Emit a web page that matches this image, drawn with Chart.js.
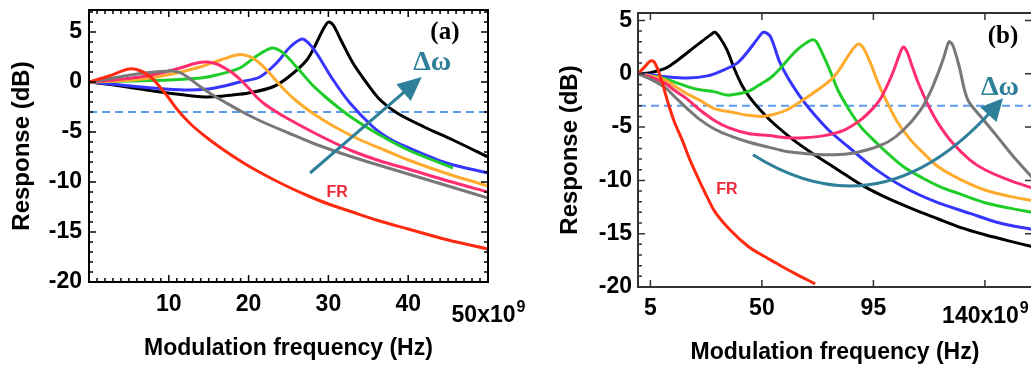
<!DOCTYPE html>
<html>
<head>
<meta charset="utf-8">
<script src="https://cdn.jsdelivr.net/npm/chart.js@4.4.1/dist/chart.umd.min.js"></script>
<style>
  html, body { margin: 0; padding: 0; background: #fff; overflow: hidden; }
  #wrapA { position: absolute; left: 0; top: 0; width: 535px; height: 367px; }
  #wrapB { position: absolute; left: 515px; top: 0; width: 520px; height: 367px; }
</style>
</head>
<body>
<div id="wrapA"><canvas id="chartA"></canvas></div>
<div id="wrapB"><canvas id="chartB"></canvas></div>
<script>
const FONT = 'Arial, "Liberation Sans", sans-serif';

// frequency in units of 1e9 Hz, response in dB
const cutoffDb = -3;
const yTicks = [-20, -15, -10, -5, 0, 5];

// panel (a)
const xTicksA = [10, 20, 30, 40, 50];
const redA = [[0,0],[2.5,0.6],[5,1.3],[6.5,1.1],[8,0.3],[9,-0.6],[10,-1.6],[11,-2.7],[12,-3.6],[13,-4.4],[14.5,-5.4],[16,-6.3],[18,-7.4],[20,-8.4],[22.5,-9.5],[25,-10.5],[27.5,-11.4],[30,-12.2],[33,-13.0],[36,-13.8],[40,-14.7],[45,-15.8],[50,-16.7]];
const grayA = [[0,0],[3,0.4],[6,0.8],[9,1.05],[10.5,1.1],[11.5,0.9],[12.5,0.4],[14,-0.5],[15.5,-1.3],[17,-2.0],[19,-2.9],[21.5,-3.9],[25,-5.1],[28,-6.1],[31.5,-7.1],[35,-8.0],[40,-9.2],[45,-10.4],[50,-11.6]];
const pinkA = [[0,0],[3,0.2],[6.4,0.5],[9,0.9],[11.4,1.4],[13.5,1.9],[14.8,2.0],[16,1.8],[17,1.4],[18,0.9],[19,0.2],[20,-0.6],[21,-1.5],[22,-2.2],[23.5,-3.0],[25,-3.7],[27.3,-4.7],[30,-5.8],[33,-6.9],[36.5,-7.9],[40,-8.7],[45,-9.9],[50,-11.0]];
const orangeA = [[0,0],[5.5,0.2],[9.8,0.7],[13.9,1.5],[16.5,2.2],[18.5,2.7],[19.5,2.7],[20.5,2.4],[21.5,1.8],[22.5,1.0],[23.5,0.1],[24.5,-0.8],[26,-1.9],[28,-3.1],[30.6,-4.4],[34,-5.8],[37,-6.8],[40,-7.8],[45,-9.2],[50,-10.4]];
const greenA = [[0,0],[5,0.1],[10,0.2],[14,0.4],[16,0.7],[18.9,1.4],[21,2.6],[22.9,3.4],[24,3.1],[25,2.4],[26,1.5],[27,0.6],[28,-0.3],[29.5,-1.4],[31,-2.4],[33,-3.6],[36,-5.1],[40,-6.8],[45.6,-8.6]];
const blueA = [[0,0],[4,-0.3],[8,-0.6],[12,-0.8],[15,-0.7],[17,-0.4],[18.9,0.0],[21.4,0.5],[23.5,1.9],[25.2,3.5],[26.7,4.3],[27.5,3.9],[28.5,2.9],[30.6,0.2],[32.7,-2.1],[35.6,-4.5],[37.5,-5.6],[39.8,-6.5],[44.8,-8.1],[50,-9.1]];
const blackA = [[0,0],[4,-0.4],[8,-0.9],[12,-1.3],[15,-1.5],[18,-1.3],[20,-1.1],[23,-0.5],[25,0.5],[27.3,2.2],[28.5,3.9],[29.3,5.2],[30,6.0],[30.6,5.7],[31.5,4.3],[33,2.0],[34.8,-0.1],[36.5,-1.8],[38.6,-3.1],[42,-4.5],[45.6,-5.8],[50,-7.5]];

// panel (b)
const xTicksB = [5, 50, 95, 140];
const redB = [[0,0],[2.5,0.6],[5,1.2],[6.5,1.1],[8,0.4],[10,-1.0],[11.7,-2.4],[14.5,-4.4],[17.8,-6.2],[21,-8.1],[24.5,-9.9],[28,-11.6],[31.2,-13.0],[37,-14.6],[44.5,-16.2],[50,-17.0],[55.3,-17.7],[63,-18.7],[71.5,-19.7]];
const grayB = [[0,0],[5,-0.5],[11,-1.3],[15,-2.2],[20,-3.3],[25,-4.3],[31,-5.2],[38,-5.9],[44.5,-6.4],[53,-6.9],[60,-7.3],[68,-7.5],[76.5,-7.6],[85,-7.5],[93,-7.1],[100.8,-6.4],[107,-5.3],[114,-3.4],[118,-1.7],[121,0.0],[123.5,1.6],[125.5,3.0],[127,2.7],[129.5,0.8],[133,-2.4],[139,-4.2],[145,-5.9],[152,-7.9],[159,-9.7]];
const pinkB = [[0,0],[5,-0.3],[11,-0.9],[15,-1.6],[20,-2.4],[25,-3.4],[31,-4.4],[37,-5.1],[44.5,-5.6],[53,-5.8],[60,-6.0],[67,-6.0],[75,-5.8],[83,-5.3],[90,-4.3],[95,-3.2],[98,-2.3],[101,-0.9],[103.5,0.5],[105.5,1.8],[107,2.5],[108.5,2.1],[110.5,0.8],[113,-0.8],[117,-2.9],[121,-4.6],[127,-6.5],[134,-8.1],[140,-9.0],[150,-10.0],[159,-10.7]];
const orangeB = [[0,0],[5,-0.2],[11,-0.6],[15,-1.2],[20,-1.9],[25,-2.5],[31,-3.3],[38,-3.6],[44.5,-3.9],[50,-4.0],[55,-3.8],[60,-3.4],[67,-2.4],[72,-1.6],[77.7,-0.6],[81,0.3],[84.6,1.6],[87,2.4],[89,2.8],[91,2.4],[94,0.9],[96.8,-0.8],[101,-2.9],[104.9,-4.6],[110,-6.2],[115,-7.4],[121,-8.7],[130,-9.9],[140,-10.9],[150,-11.5],[159,-11.9]];
const greenB = [[0,0],[5,-0.2],[10,-0.4],[15,-0.8],[20,-1.2],[25,-1.5],[31,-1.7],[36,-2.0],[40,-1.9],[45,-1.6],[50,-0.9],[53.4,-0.4],[57,0.4],[61.5,1.6],[65,2.4],[68,2.9],[70.4,3.2],[72,3.0],[75,1.6],[78,0.0],[80.6,-1.5],[85,-3.3],[90,-5.0],[95,-6.2],[100,-7.3],[107,-8.7],[115,-9.8],[122,-10.6],[129,-11.2],[140,-12.1],[150,-12.6],[159,-13.0]];
const blueB = [[0,0],[5,-0.1],[12,-0.3],[20,-0.4],[28,-0.2],[34,0.3],[40,1.0],[44,2.0],[48,3.2],[50.6,3.9],[53.4,3.5],[57,1.2],[60.3,-0.3],[65,-2.0],[69.6,-3.4],[77,-5.3],[84.6,-6.8],[95,-8.8],[107,-10.6],[120,-12.0],[134,-13.1],[146,-14.0],[159,-14.6]];
const blackB = [[0,0],[5,0.1],[11,0.5],[15,1.1],[20,2.0],[25,2.9],[29,3.6],[31,3.9],[33,3.4],[36,2.2],[39,0.4],[42,-1.1],[45,-2.2],[48.6,-3.2],[54,-4.5],[60,-5.7],[65,-6.6],[70,-7.4],[80,-8.9],[90,-10.4],[100,-11.6],[110,-12.6],[121,-13.6],[130,-14.4],[140,-15.1],[150,-15.7],[159,-16.2]];

const C = { black: '#000000', blue: '#3535ff', green: '#1fcc2a', orange: '#ffab2e', pink: '#ff2d6e', gray: '#787878', red: '#ff2a10', teal: '#2e7f99', dash: '#5c9cf0' };

function range(a, b, step) {
  const out = [];
  for (let v = a; v <= b + 1e-9; v += step) out.push(v);
  return out;
}

function series(points, color) {
  return {
    data: points.map(p => ({ x: p[0], y: p[1] })),
    borderColor: color, borderWidth: 3, pointRadius: 0, fill: false,
    tension: 0.3
  };
}

function cutoffLine(xmax) {
  return {
    data: [{ x: 0, y: cutoffDb }, { x: xmax, y: cutoffDb }],
    borderColor: C.dash, borderWidth: 2, borderDash: [8, 5], pointRadius: 0, fill: false
  };
}

// frame around the plot and inward tick marks
const frame = {
  id: 'frame',
  afterDatasetsDraw(chart, args, o) {
    const { ctx, chartArea: c, scales: { x, y } } = chart;
    ctx.save();
    ctx.strokeStyle = o.color;
    ctx.lineWidth = 1.5;
    ctx.beginPath();
    for (const t of o.ticks) {
      const s = t.axis === 'x' ? x : y;
      for (const v of t.values) {
        const p = s.getPixelForValue(v);
        for (const side of t.sides) {
          if (side === 'bottom') { ctx.moveTo(p, c.bottom); ctx.lineTo(p, c.bottom - t.len); }
          if (side === 'top') { ctx.moveTo(p, c.top); ctx.lineTo(p, c.top + t.len); }
          if (side === 'left') { ctx.moveTo(c.left, p); ctx.lineTo(c.left + t.len, p); }
          if (side === 'right') { ctx.moveTo(c.right, p); ctx.lineTo(c.right - t.len, p); }
        }
      }
    }
    ctx.stroke();
    ctx.lineWidth = o.width;
    ctx.strokeRect(c.left, c.top, c.right - c.left, c.bottom - c.top);
    ctx.restore();
  }
};

// arrow, text labels and the "x10^9" tick label
const notes = {
  id: 'notes',
  afterDraw(chart, args, o) {
    const { ctx, chartArea: c, scales: { x, y } } = chart;
    const P = p => [x.getPixelForValue(p[0]), y.getPixelForValue(p[1])];
    ctx.save();
    const a = o.arrow;
    const pts = a.path.map(P);
    const end = pts[pts.length - 1], prev = pts[pts.length - 2];
    const ang = Math.atan2(end[1] - prev[1], end[0] - prev[0]);
    const cs = Math.cos(ang), sn = Math.sin(ang);
    ctx.strokeStyle = ctx.fillStyle = C.teal;
    ctx.lineWidth = a.width;
    ctx.beginPath();
    ctx.moveTo(pts[0][0], pts[0][1]);
    const bx = end[0] - a.head * 0.7 * cs, by = end[1] - a.head * 0.7 * sn;
    if (pts.length === 3) ctx.quadraticCurveTo(pts[1][0], pts[1][1], bx, by);
    else ctx.lineTo(bx, by);
    ctx.stroke();
    ctx.beginPath();
    ctx.moveTo(end[0], end[1]);
    ctx.lineTo(end[0] - a.head * cs + a.half * sn, end[1] - a.head * sn - a.half * cs);
    ctx.lineTo(end[0] - a.head * cs - a.half * sn, end[1] - a.head * sn + a.half * cs);
    ctx.closePath();
    ctx.fill();

    ctx.textAlign = 'center';
    ctx.textBaseline = 'middle';
    for (const t of o.texts) {
      const [px, py] = P(t.at);
      ctx.font = t.font;
      ctx.fillStyle = t.color;
      ctx.fillText(t.text, px, py);
    }

    const L = o.lastTick;
    ctx.textAlign = 'left';
    ctx.textBaseline = 'alphabetic';
    ctx.fillStyle = '#000';
    ctx.font = 'bold 23px ' + FONT;
    const w1 = ctx.measureText(L.text).width;
    ctx.font = 'bold 16px ' + FONT;
    const w2 = ctx.measureText(L.sup).width;
    const x0 = x.getPixelForValue(L.value) - (w1 + w2) / 2;
    const base = c.bottom + L.dy;
    ctx.font = 'bold 23px ' + FONT;
    ctx.fillText(L.text, x0, base);
    ctx.font = 'bold 16px ' + FONT;
    ctx.fillText(L.sup, x0 + w1 + 1, base - 10);
    ctx.restore();
  }
};

const tickFont = { family: FONT, size: 23, weight: 'bold' };

function makeScales(cfg) {
  return {
    x: {
      type: 'linear', min: 0, max: cfg.xmax,
      afterFit: s => { s.height = cfg.xHeight; s.paddingLeft = 0; s.paddingRight = 0; },
      afterBuildTicks: s => { s.ticks = cfg.xTicks.map(v => ({ value: v })); },
      grid: { display: false, drawTicks: false }, border: { display: false },
      ticks: { padding: cfg.xPad, color: '#000', font: tickFont, maxRotation: 0, autoSkip: false,
        callback: v => v === cfg.xTicks[cfg.xTicks.length - 1] ? '' : String(v) },
      title: { display: true, text: 'Modulation frequency (Hz)', color: '#000',
        font: { family: FONT, size: 23, weight: 'bold' }, padding: { top: 0, bottom: cfg.xTitlePad } }
    },
    y: {
      min: -20, max: cfg.ymax,
      afterFit: s => { s.width = cfg.yWidth; s.paddingTop = 0; s.paddingBottom = 0; },
      afterBuildTicks: s => { s.ticks = yTicks.map(v => ({ value: v })); },
      grid: { display: false, drawTicks: false }, border: { display: false },
      ticks: { padding: cfg.yPad, color: '#000', font: tickFont },
      title: { display: true, text: 'Response (dB)', color: '#000',
        font: { family: FONT, size: 24, weight: 'bold' }, padding: { top: cfg.yTitlePad, bottom: 0 } }
    }
  };
}

new Chart(document.getElementById('chartA'), {
  type: 'line',
  data: {
    datasets: [
      series(redA, C.red), series(grayA, C.gray), series(pinkA, C.pink), series(orangeA, C.orange),
      series(greenA, C.green), series(blueA, C.blue), series(blackA, C.black), cutoffLine(50)
    ]
  },
  options: {
    responsive: true, maintainAspectRatio: false, animation: false,
    layout: { padding: { top: 10, right: 47, left: 0, bottom: 0 } },
    scales: makeScales({ xmax: 50, ymax: 7.2, xTicks: xTicksA, xHeight: 85, yWidth: 89, xPad: 9, yPad: 7, xTitlePad: 5, yTitlePad: 8 }),
    plugins: {
      legend: { display: false }, tooltip: { enabled: false },
      frame: {
        color: '#000', width: 2,
        ticks: [
          { axis: 'x', values: range(0, 50, 1), len: 4, sides: ['top', 'bottom'] },
          { axis: 'x', values: range(0, 50, 10), len: 7, sides: ['top', 'bottom'] },
          { axis: 'y', values: range(-20, 7, 1), len: 4, sides: ['left', 'right'] },
          { axis: 'y', values: range(-20, 5, 5), len: 7, sides: ['left', 'right'] }
        ]
      },
      notes: {
        arrow: { path: [[27.7, -9.1], [41.7, 0.5]], width: 3, head: 24, half: 11 },
        texts: [
          { text: 'Δω', at: [43.0, 1.9], font: 'bold 28px "Liberation Serif", "DejaVu Serif", serif', color: C.teal },
          { text: '(a)', at: [44.6, 4.9], font: 'bold 25px "Liberation Serif", "DejaVu Serif", serif', color: '#000' },
          { text: 'FR', at: [31.1, -11.1], font: 'bold 16px ' + FONT, color: '#ee2a3a' }
        ],
        lastTick: { value: 50, text: '50x10', sup: '9', dy: 40 }
      }
    }
  },
  plugins: [frame, notes]
});

new Chart(document.getElementById('chartB'), {
  type: 'line',
  data: {
    datasets: [
      series(redB, C.red), series(grayB, C.gray), series(pinkB, C.pink), series(orangeB, C.orange),
      series(greenB, C.green), series(blueB, C.blue), series(blackB, C.black), cutoffLine(159)
    ]
  },
  options: {
    responsive: true, maintainAspectRatio: false, animation: false,
    layout: { padding: { top: 13, right: 3, left: 0, bottom: 0 } },
    scales: makeScales({ xmax: 159, ymax: 5.7, xTicks: xTicksB, xHeight: 80, yWidth: 123, xPad: 8, yPad: 6, xTitlePad: 1, yTitlePad: 41 }),
    plugins: {
      legend: { display: false }, tooltip: { enabled: false },
      frame: {
        color: '#333', width: 2,
        ticks: [
          { axis: 'x', values: xTicksB, len: 7, sides: ['top', 'bottom'] },
          { axis: 'y', values: range(-20, 5, 1), len: 4, sides: ['left'] },
          { axis: 'y', values: range(-20, 5, 5), len: 7, sides: ['left', 'right'] }
        ]
      },
      notes: {
        arrow: { path: [[46.4, -7.6], [97.7, -15.1], [147.3, -2.3]], width: 3, head: 22, half: 11 },
        texts: [
          { text: 'Δω', at: [146.1, -1.3], font: 'bold 28px "Liberation Serif", "DejaVu Serif", serif', color: C.teal },
          { text: '(b)', at: [147.3, 3.45], font: 'bold 25px "Liberation Serif", "DejaVu Serif", serif', color: '#000' },
          { text: 'FR', at: [35.9, -10.9], font: 'bold 16px ' + FONT, color: '#ee2a3a' }
        ],
        lastTick: { value: 140, text: '140x10', sup: '9', dy: 36 }
      }
    }
  },
  plugins: [frame, notes]
});
</script>
</body>
</html>
